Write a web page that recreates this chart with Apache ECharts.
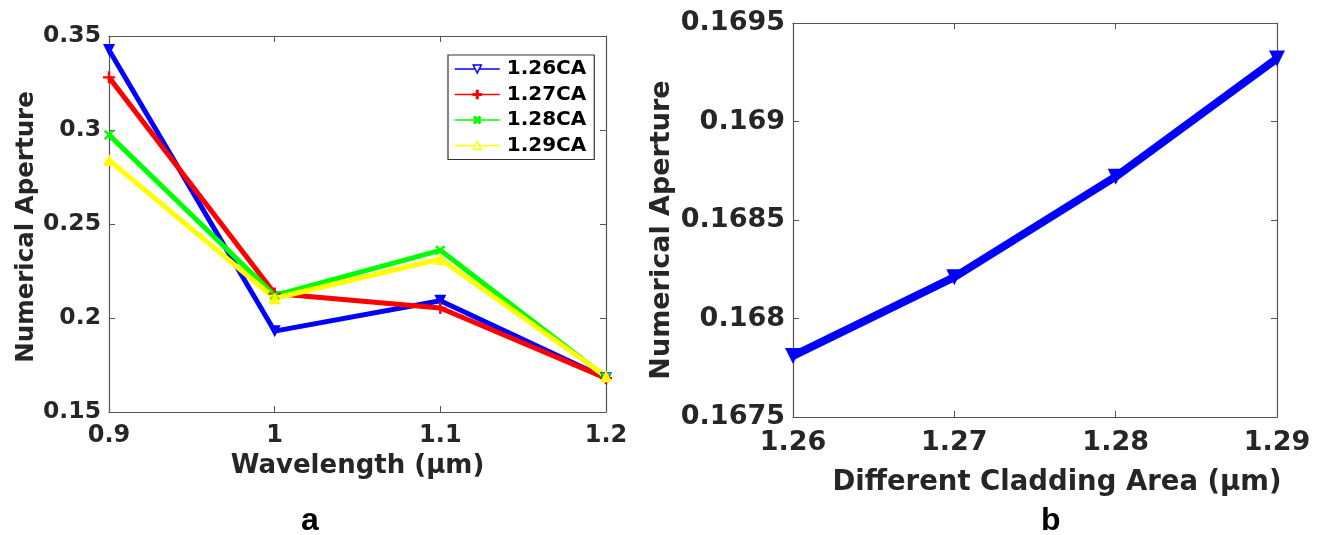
<!DOCTYPE html>
<html>
<head>
<meta charset="utf-8">
<script src="https://cdn.jsdelivr.net/npm/echarts@6/dist/echarts.min.js"></script>
<style>
  html, body { margin: 0; padding: 0; background: #fff; }
  #chart { width: 1320px; height: 535px; }
</style>
</head>
<body>
<div id="chart"></div>
<script>
// panel a: numerical aperture vs wavelength
const wavelengths = ['0.9', '1', '1.1', '1.2']
const na126 = [0.3425, 0.193, 0.2092, 0.168]
const na127 = [0.328, 0.213, 0.2053, 0.168]
const na128 = [0.2974, 0.212, 0.236, 0.1685]
const na129 = [0.284, 0.2105, 0.2314, 0.169]
const seriesNamesA = ['1.26CA', '1.27CA', '1.28CA', '1.29CA']

// panel b: numerical aperture vs cladding area
const claddingAreas = ['1.26', '1.27', '1.28', '1.29']
const naCladding = [0.16781, 0.16821, 0.16872, 0.16932]

const textColor = '#262626'
const axisColor = '#555'
const font = 'DejaVu Sans'

const plusPath = 'path://M4,0h2v4h4v2h-4v4h-2v-4h-4v-2h4z'

const xTick = { show: true, inside: true, length: 6, lineStyle: { color: axisColor } }
const xLine = { show: true, lineStyle: { color: axisColor, width: 1.2 } }

function xAxisPair(gridIndex, labels, fs, name, nameSize, nameGap, namePad) {
  return [
    {
      type: 'category', gridIndex, data: labels, boundaryGap: false,
      name, nameLocation: 'middle', nameGap,
      nameTextStyle: { color: textColor, fontFamily: font, fontWeight: 'bold', fontSize: nameSize, padding: namePad },
      axisLine: xLine, axisTick: xTick, splitLine: { show: false },
      axisLabel: { color: textColor, fontFamily: font, fontWeight: 'bold', fontSize: fs, margin: 12 }
    },
    {
      type: 'category', gridIndex, data: labels, boundaryGap: false, position: 'top',
      axisLine: xLine, axisTick: xTick, axisLabel: { show: false }, splitLine: { show: false }
    }
  ]
}

function yAxisPair(gridIndex, min, max, interval, digits, fs, nameSize, nameGap, namePad) {
  return [
    {
      type: 'value', gridIndex, min, max, interval,
      name: 'Numerical Aperture', nameLocation: 'middle', nameGap,
      nameTextStyle: { color: textColor, fontFamily: font, fontWeight: 'bold', fontSize: nameSize, padding: namePad },
      axisLine: xLine, axisTick: xTick, splitLine: { show: false },
      axisLabel: {
        color: textColor, fontFamily: font, fontWeight: 'bold', fontSize: fs, margin: 8,
        formatter: v => String(+v.toFixed(digits))
      }
    },
    {
      type: 'value', gridIndex, min, max, interval, position: 'right',
      axisLine: xLine, axisTick: xTick, splitLine: { show: false }, axisLabel: { show: false }
    }
  ]
}

function lineSeries(name, data, color, symbol, rotate, width, size) {
  return {
    name, type: 'line', data, xAxisIndex: 0, yAxisIndex: 0,
    symbol, symbolRotate: rotate, symbolSize: size,
    lineStyle: { color, width },
    itemStyle: { color },
    animation: false
  }
}

const colorsA = ['#0000ff', '#ff0000', '#00ff00', '#ffff00']

const chart = echarts.init(document.getElementById('chart'))

chart.setOption({
  backgroundColor: '#fff',
  grid: [
    { left: 109, top: 36, width: 497, height: 376 },
    { left: 793, top: 23, width: 484, height: 394 }
  ],
  title: [
    { text: 'a', left: 296, top: 500, textStyle: { fontFamily: 'Liberation Sans', fontWeight: 'bold', fontSize: 32, color: '#000' } },
    { text: 'b', left: 1036, top: 500, textStyle: { fontFamily: 'Liberation Sans', fontWeight: 'bold', fontSize: 32, color: '#000' } }
  ],
  legend: {
    left: 448, top: 55, orient: 'vertical',
    itemWidth: 45, itemHeight: 10, itemGap: 5.5,
    padding: [4, 8, 4, 6],
    borderColor: '#333', borderWidth: 1.2, backgroundColor: '#fff',
    textStyle: { color: '#000', fontFamily: font, fontWeight: 'bold', fontSize: 20, padding: [0, 0, 0, 2] },
    data: seriesNamesA.map((n, i) => ({
      name: n,
      itemStyle: { color: i === 0 || i === 3 ? '#fff' : colorsA[i], borderColor: colorsA[i], borderWidth: 1.5 },
      lineStyle: { width: 1.5 }
    }))
  },
  xAxis: [
    ...xAxisPair(0, wavelengths, 24, 'Wavelength (µm)', 26, 39, 0),
    ...xAxisPair(1, claddingAreas, 27, 'Different Cladding Area (µm)', 27.5, 52, [0, 0, 0, 44])
  ],
  yAxis: [
    ...yAxisPair(0, 0.15, 0.35, 0.05, 2, 23.5, 24.5, 66, [0, 6, 0, 0]),
    ...yAxisPair(1, 0.1675, 0.1695, 0.0005, 4, 27, 27, 118, [0, 20, 0, 0])
  ],
  series: [
    lineSeries(seriesNamesA[0], na126, colorsA[0], 'triangle', 180, 5, 12),
    lineSeries(seriesNamesA[1], na127, colorsA[1], plusPath, 0, 5, 12),
    lineSeries(seriesNamesA[2], na128, colorsA[2], plusPath, 45, 5, 12),
    lineSeries(seriesNamesA[3], na129, colorsA[3], 'triangle', 0, 5, 12),
    Object.assign(lineSeries('b', naCladding, '#0000ff', 'triangle', 180, 8, 16), { xAxisIndex: 2, yAxisIndex: 2 })
  ]
})
</script>
</body>
</html>
